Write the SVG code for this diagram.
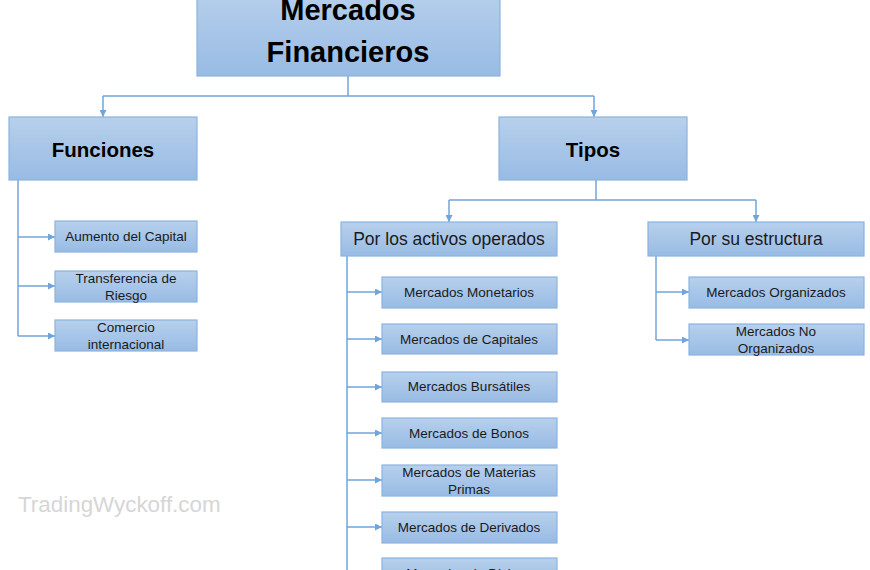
<svg xmlns="http://www.w3.org/2000/svg" width="870" height="570" viewBox="0 0 870 570">
<style>
.box{fill:url(#g);stroke:#8db3df;stroke-width:1.2}
.t{font-family:"Liberation Sans",Arial,sans-serif;fill:#1a1a1a;text-anchor:middle}
.h{font-weight:bold;fill:#000}
.s{font-size:13.5px}
.c{fill:none;stroke:#6fa5db;stroke-width:1.5}
</style>
<defs>
<linearGradient id="g" x1="0" y1="0" x2="0" y2="1">
<stop offset="0" stop-color="#b7d0ec"/>
<stop offset="1" stop-color="#98bbe4"/>
</linearGradient>
<marker id="a" viewBox="0 0 10 10" refX="10" refY="5" markerWidth="7" markerHeight="7" markerUnits="userSpaceOnUse" orient="auto">
<path d="M0,0L10,5L0,10z" fill="#6fa5db"/>
</marker>
</defs>
<rect width="870" height="570" fill="#fff"/>
<text x="18" y="512" font-family="'Liberation Sans',Arial,sans-serif" font-size="22.4" fill="#d6d6d6">TradingWyckoff.com</text>
<g id="connectors">
<path class="c" d="M348,76V96"/>
<path class="c" d="M103,96H594"/>
<path class="c" d="M103,96V117" marker-end="url(#a)"/>
<path class="c" d="M594,96V117" marker-end="url(#a)"/>
<path class="c" d="M18,180V336"/>
<path class="c" d="M18,237H55" marker-end="url(#a)"/>
<path class="c" d="M18,286H55" marker-end="url(#a)"/>
<path class="c" d="M18,336H55" marker-end="url(#a)"/>
<path class="c" d="M596,180V200"/>
<path class="c" d="M449,200H756"/>
<path class="c" d="M449,200V222" marker-end="url(#a)"/>
<path class="c" d="M756,200V222" marker-end="url(#a)"/>
<path class="c" d="M347,256V575"/>
<path class="c" d="M347,292H382" marker-end="url(#a)"/>
<path class="c" d="M347,339H382" marker-end="url(#a)"/>
<path class="c" d="M347,387H382" marker-end="url(#a)"/>
<path class="c" d="M347,433H382" marker-end="url(#a)"/>
<path class="c" d="M347,480H382" marker-end="url(#a)"/>
<path class="c" d="M347,527H382" marker-end="url(#a)"/>
<path class="c" d="M656,256V340"/>
<path class="c" d="M656,292H689" marker-end="url(#a)"/>
<path class="c" d="M656,340H689" marker-end="url(#a)"/>
</g>
<g id="root"><rect class="box" x="197" y="-10" width="303" height="86"/>
<text class="t h" x="348" y="20" font-size="29">Mercados</text>
<text class="t h" x="348" y="62" font-size="29">Financieros</text></g>
<g id="funciones"><rect class="box" x="9" y="117" width="188" height="63"/>
<text class="t h" x="103" y="157" font-size="20.5">Funciones</text></g>
<g id="aumento"><rect class="box" x="55" y="221" width="142" height="31"/>
<text class="t s" x="126" y="241">Aumento del Capital</text></g>
<g id="transferencia"><rect class="box" x="55" y="271" width="142" height="31"/>
<text class="t s" x="126" y="283">Transferencia de</text>
<text class="t s" x="126" y="300">Riesgo</text></g>
<g id="comercio"><rect class="box" x="55" y="320" width="142" height="31"/>
<text class="t s" x="126" y="332">Comercio</text>
<text class="t s" x="126" y="349">internacional</text></g>
<g id="tipos"><rect class="box" x="499" y="117" width="188" height="63"/>
<text class="t h" x="593" y="157" font-size="20.5">Tipos</text></g>
<g id="activos"><rect class="box" x="341" y="222" width="216" height="34"/>
<text class="t" x="449" y="245" font-size="17.5">Por los activos operados</text></g>
<g id="estructura"><rect class="box" x="648" y="222" width="216" height="34"/>
<text class="t" x="756" y="245" font-size="17.5">Por su estructura</text></g>
<g id="monetarios"><rect class="box" x="382" y="277" width="175" height="31"/>
<text class="t s" x="469" y="297">Mercados Monetarios</text></g>
<g id="capitales"><rect class="box" x="382" y="324" width="175" height="30"/>
<text class="t s" x="469" y="344">Mercados de Capitales</text></g>
<g id="bursatiles"><rect class="box" x="382" y="372" width="175" height="30"/>
<text class="t s" x="469" y="391">Mercados Bursátiles</text></g>
<g id="bonos"><rect class="box" x="382" y="418" width="175" height="30"/>
<text class="t s" x="469" y="438">Mercados de Bonos</text></g>
<g id="materias"><rect class="box" x="382" y="465" width="175" height="31"/>
<text class="t s" x="469" y="477">Mercados de Materias</text>
<text class="t s" x="469" y="494">Primas</text></g>
<g id="derivados"><rect class="box" x="382" y="512" width="175" height="31"/>
<text class="t s" x="469" y="532">Mercados de Derivados</text></g>
<g id="divisas"><rect class="box" x="382" y="558" width="175" height="31"/>
<text class="t s" x="469" y="578">Mercados de Divisas</text></g>
<g id="organizados"><rect class="box" x="689" y="277" width="175" height="31"/>
<text class="t s" x="776" y="297">Mercados Organizados</text></g>
<g id="noorganizados"><rect class="box" x="689" y="324" width="175" height="31"/>
<text class="t s" x="776" y="336">Mercados No</text>
<text class="t s" x="776" y="353">Organizados</text></g>
</svg>
